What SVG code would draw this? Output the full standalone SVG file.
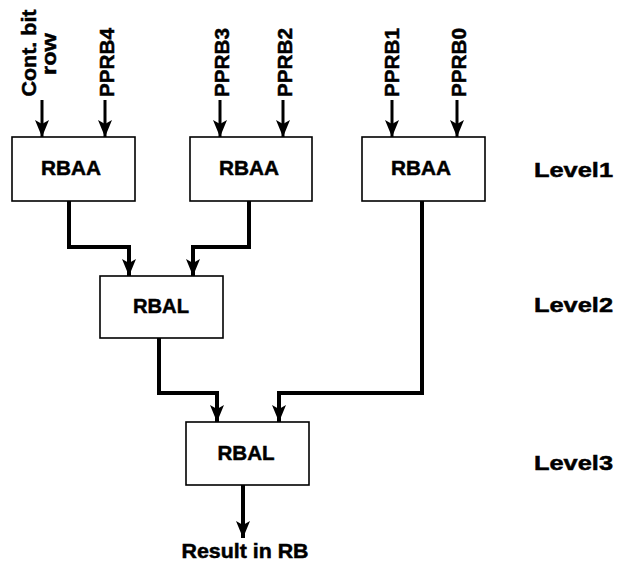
<svg xmlns="http://www.w3.org/2000/svg" width="618" height="563" viewBox="0 0 618 563">
<style>
.box{fill:#fff;stroke:#000;stroke-width:1.6}
.t{font-family:"Liberation Sans",Arial,sans-serif;font-weight:bold;font-size:21px;fill:#000;stroke:#000;stroke-width:0.5}
.m{text-anchor:middle}
.w{fill:none;stroke:#000;stroke-width:4;stroke-linejoin:miter}
.in{fill:none;stroke:#000;stroke-width:3}
</style>
<defs>
<marker id="ah" viewBox="0 0 17 14" refX="17" refY="7" markerWidth="17" markerHeight="14" markerUnits="userSpaceOnUse" orient="auto">
<path d="M0,0 L17,7 L0,14 L4,7 z" fill="#000"/>
</marker>
</defs>
<g id="connectors">
<path class="in" d="M42,100 V137" marker-end="url(#ah)"/>
<path class="in" d="M105,100 V137" marker-end="url(#ah)"/>
<path class="in" d="M220,100 V137" marker-end="url(#ah)"/>
<path class="in" d="M283,100 V137" marker-end="url(#ah)"/>
<path class="in" d="M392,100 V137" marker-end="url(#ah)"/>
<path class="in" d="M457,100 V137" marker-end="url(#ah)"/>
<path class="w" d="M69,201 V247 H129 V276" marker-end="url(#ah)"/>
<path class="w" d="M249,201 V247 H193 V276" marker-end="url(#ah)"/>
<path class="w" d="M422,201 V393 H279 V422" marker-end="url(#ah)"/>
<path class="w" d="M159,338 V393 H217 V422" marker-end="url(#ah)"/>
<path class="w" d="M243,485 V538" marker-end="url(#ah)"/>
</g>
<g id="in-cont">
<text class="t m" transform="translate(36,53) rotate(-90)" textLength="87" lengthAdjust="spacingAndGlyphs">Cont. bit</text>
<text class="t m" transform="translate(56,54) rotate(-90)" textLength="42" lengthAdjust="spacingAndGlyphs">row</text>
</g>
<g id="in-pprb4"><text class="t" transform="translate(114,97) rotate(-90)" textLength="69" lengthAdjust="spacingAndGlyphs">PPRB4</text></g>
<g id="in-pprb3"><text class="t" transform="translate(229,97) rotate(-90)" textLength="69" lengthAdjust="spacingAndGlyphs">PPRB3</text></g>
<g id="in-pprb2"><text class="t" transform="translate(292,97) rotate(-90)" textLength="69" lengthAdjust="spacingAndGlyphs">PPRB2</text></g>
<g id="in-pprb1"><text class="t" transform="translate(399,97) rotate(-90)" textLength="69" lengthAdjust="spacingAndGlyphs">PPRB1</text></g>
<g id="in-pprb0"><text class="t" transform="translate(466,97) rotate(-90)" textLength="69" lengthAdjust="spacingAndGlyphs">PPRB0</text></g>
<g id="rbaa1">
<rect class="box" x="12" y="137" width="123" height="64"/>
<text class="t m" x="71" y="175" textLength="60" lengthAdjust="spacingAndGlyphs">RBAA</text>
</g>
<g id="rbaa2">
<rect class="box" x="190" y="137" width="122" height="64"/>
<text class="t m" x="249" y="175" textLength="60" lengthAdjust="spacingAndGlyphs">RBAA</text>
</g>
<g id="rbaa3">
<rect class="box" x="362" y="137" width="123" height="64"/>
<text class="t m" x="421" y="175" textLength="60" lengthAdjust="spacingAndGlyphs">RBAA</text>
</g>
<g id="rbal1">
<rect class="box" x="100" y="276" width="123" height="62"/>
<text class="t m" x="161" y="313" textLength="56" lengthAdjust="spacingAndGlyphs">RBAL</text>
</g>
<g id="rbal2">
<rect class="box" x="186" y="422" width="123" height="63"/>
<text class="t m" x="246" y="460" textLength="57" lengthAdjust="spacingAndGlyphs">RBAL</text>
</g>
<g id="result"><text class="t m" x="245" y="558" textLength="127" lengthAdjust="spacingAndGlyphs">Result in RB</text></g>
<g id="level1"><text class="t" x="534" y="177" textLength="79" lengthAdjust="spacingAndGlyphs">Level1</text></g>
<g id="level2"><text class="t" x="534" y="312" textLength="79" lengthAdjust="spacingAndGlyphs">Level2</text></g>
<g id="level3"><text class="t" x="534" y="470" textLength="79" lengthAdjust="spacingAndGlyphs">Level3</text></g>
</svg>
